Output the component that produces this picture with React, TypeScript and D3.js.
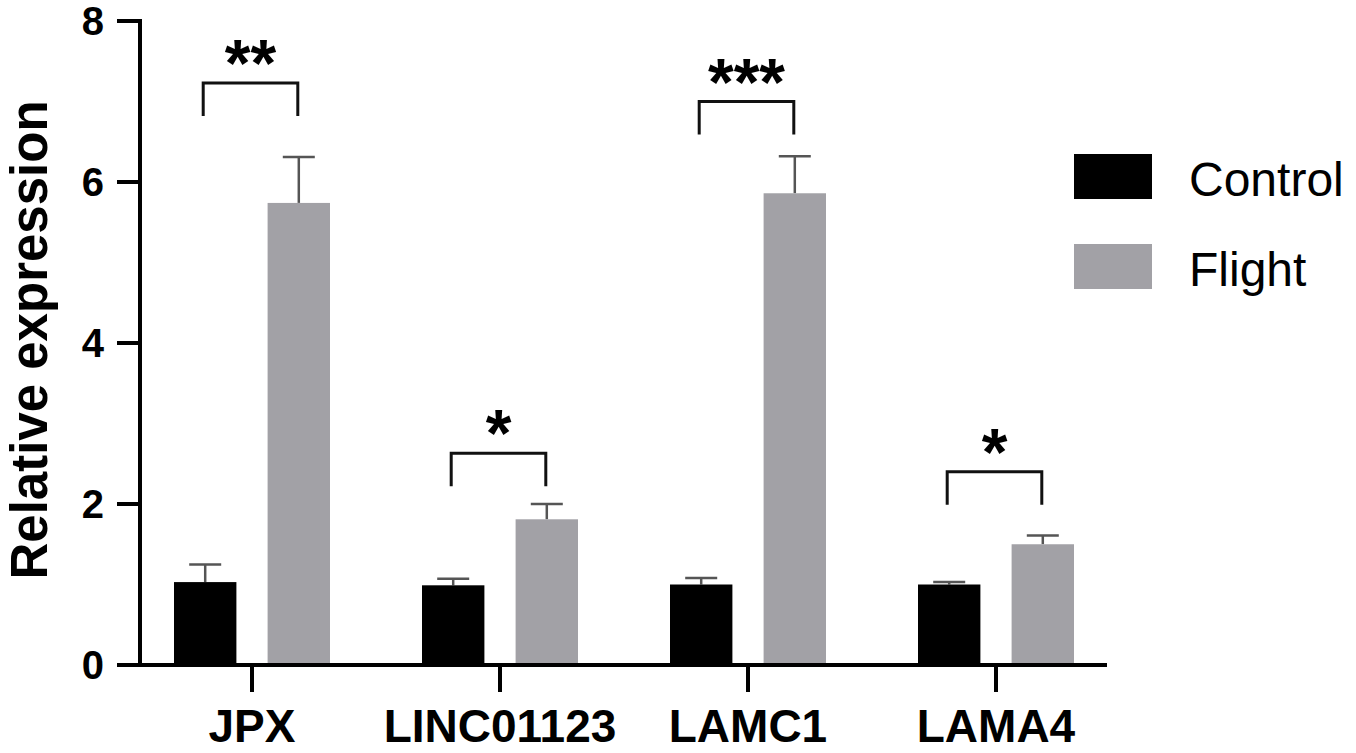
import React from "react";
import * as d3 from "d3";

const categories = ["JPX", "LINC01123", "LAMC1", "LAMA4"];
const seriesNames = ["Control", "Flight"];
const controlMean = [1.03, 0.99, 1.0, 1.0];
const controlErr = [0.22, 0.08, 0.08, 0.03];
const flightMean = [5.74, 1.81, 5.86, 1.5];
const flightErr = [0.57, 0.19, 0.46, 0.11];
const sigLabels = ["**", "*", "***", "*"];
const bracketLevel = [7.23, 2.63, 7.0, 2.4];
const yTicks = [0, 2, 4, 6, 8];

const W = 1356;
const H = 753;
const FONT = "'Liberation Sans', Arial, Helvetica, sans-serif";
const colors: Record<string, string> = { Control: "#000000", Flight: "#a2a1a6" };

export default function App() {
  const y = d3.scaleLinear().domain([0, 8]).range([665, 21]);
  const x = d3.scaleBand<string>().domain(categories).range([128, 1120]).padding(0);
  const xs = d3
    .scaleBand<string>()
    .domain(seriesNames)
    .range([46, 202])
    .paddingInner(1 / 3)
    .paddingOuter(0);
  const bw = xs.bandwidth();
  const means: Record<string, number[]> = { Control: controlMean, Flight: flightMean };
  const errs: Record<string, number[]> = { Control: controlErr, Flight: flightErr };
  const axisX = 140;
  const axisY = y(0);

  return (
    <svg
      width={W}
      height={H}
      style={{ position: "absolute", left: 0, top: 0, background: "#fff" }}
      fontFamily={FONT}
    >
      <rect width={W} height={H} fill="#fff" />
      {/* bars */}
      {categories.map((c, i) =>
        seriesNames.map((s) => {
          const x0 = (x(c) as number) + (xs(s) as number);
          const v = means[s][i];
          const e = errs[s][i];
          const cx = x0 + bw / 2;
          return (
            <g key={c + s}>
              <line x1={cx} x2={cx} y1={y(v)} y2={y(v + e)} stroke="#555" strokeWidth={2.5} />
              <line x1={cx - 16} x2={cx + 16} y1={y(v + e)} y2={y(v + e)} stroke="#555" strokeWidth={2.5} />
              <rect x={x0} y={y(v)} width={bw} height={y(0) - y(v)} fill={colors[s]} />
            </g>
          );
        })
      )}
      {/* significance brackets */}
      {categories.map((c, i) => {
        const xl = (x(c) as number) + (xs("Control") as number) + bw / 2 - 2;
        const xr = (x(c) as number) + (xs("Flight") as number) + bw / 2 - 1;
        const yt = y(bracketLevel[i]);
        const cx = (xl + xr) / 2;
        return (
          <g key={"b" + c}>
            <path
              d={`M${xl},${yt + 33}V${yt}H${xr}V${yt + 33}`}
              fill="none"
              stroke="#111"
              strokeWidth={3}
            />
            <text
              x={cx}
              y={yt + 3}
              textAnchor="middle"
              fontSize={66}
              fontWeight="bold"
              fill="#000"
            >
              {sigLabels[i]}
            </text>
          </g>
        );
      })}
      {/* y axis */}
      <line x1={axisX} x2={axisX} y1={y(8) - 2} y2={axisY} stroke="#000" strokeWidth={4} />
      {yTicks.map((t) => (
        <g key={"yt" + t}>
          <line x1={117} x2={axisX} y1={y(t)} y2={y(t)} stroke="#000" strokeWidth={4} />
          <text
            x={104}
            y={y(t) + 14}
            textAnchor="end"
            fontSize={40}
            fontWeight="bold"
            fill="#000"
          >
            {t}
          </text>
        </g>
      ))}
      {/* x axis */}
      <line x1={117} x2={1107} y1={axisY} y2={axisY} stroke="#000" strokeWidth={4} />
      {categories.map((c) => {
        const cx = (x(c) as number) + x.bandwidth() / 2;
        return (
          <g key={"xt" + c}>
            <line x1={cx} x2={cx} y1={axisY} y2={692} stroke="#000" strokeWidth={4} />
            <text x={cx} y={742} textAnchor="middle" fontSize={46} fontWeight="bold" fill="#000">
              {c}
            </text>
          </g>
        );
      })}
      {/* y title */}
      <text
        transform={`translate(47,340) rotate(-90)`}
        textAnchor="middle"
        fontSize={51}
        fontWeight="bold"
        fill="#000"
      >
        Relative expression
      </text>
      {/* legend */}
      {seriesNames.map((s, i) => (
        <g key={"lg" + s} transform={`translate(0, ${i * 90})`}>
          <rect x={1074} y={154} width={78} height={45} fill={colors[s]} />
          <text x={1189} y={196} fontSize={48} fill="#000">
            {s}
          </text>
        </g>
      ))}
    </svg>
  );
}
